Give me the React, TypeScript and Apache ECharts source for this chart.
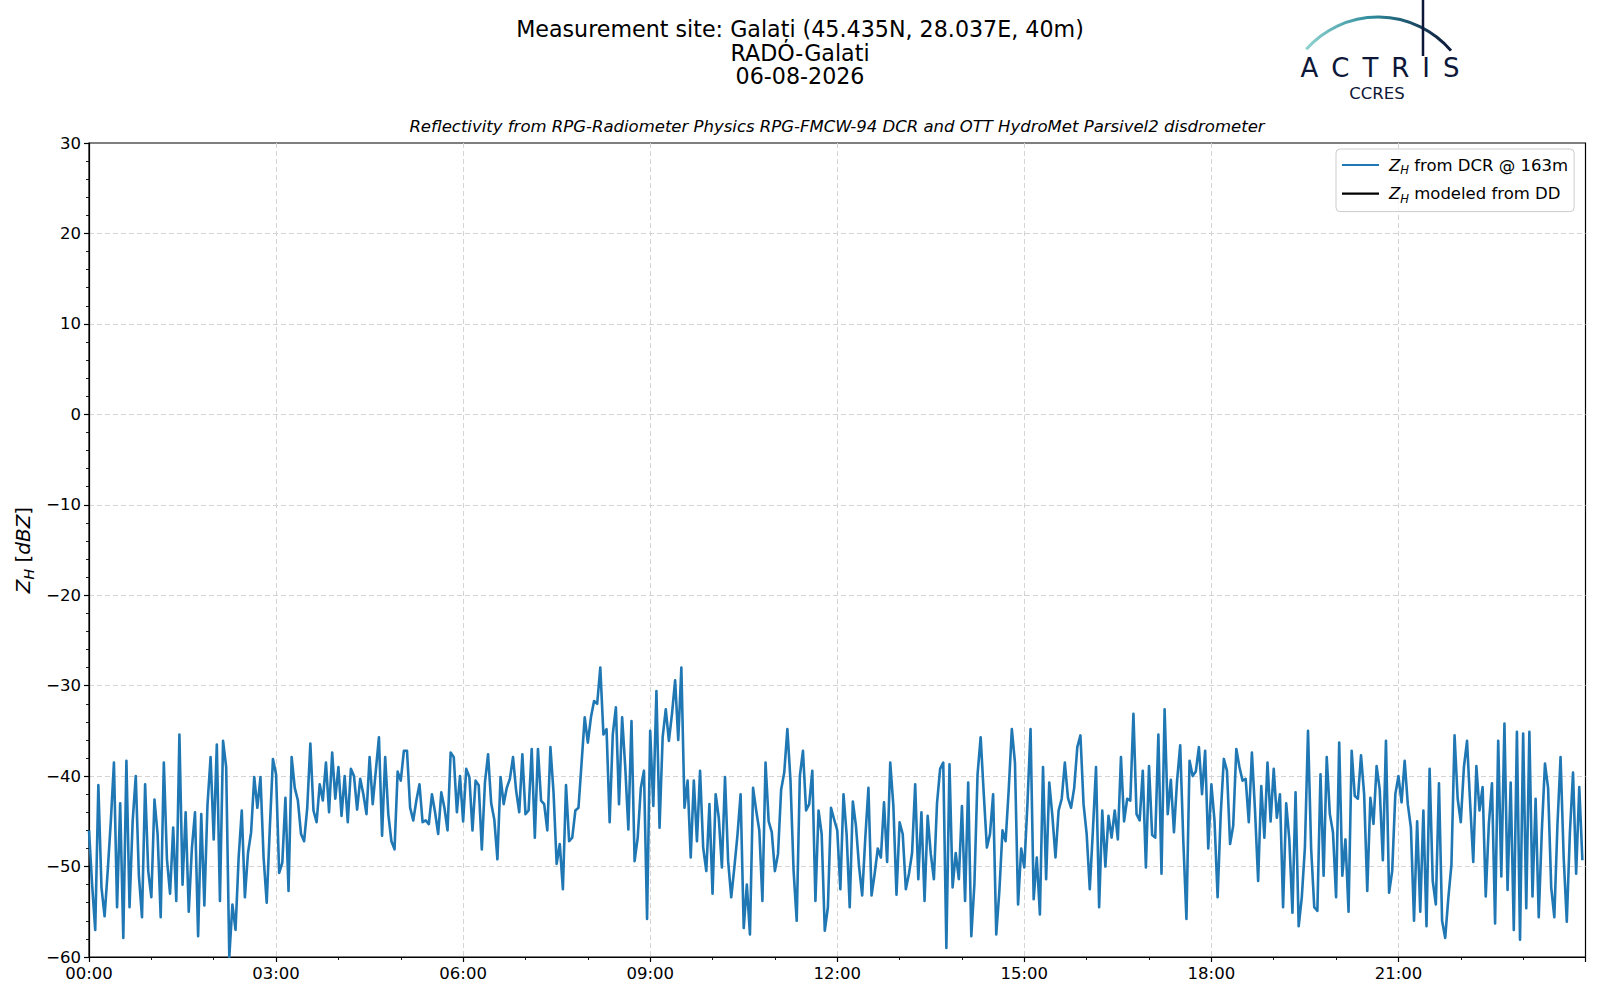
import { useEffect, useRef } from "react";
import * as echarts from "echarts";

// radar reflectivity at 163 m, one value every 3 minutes
const STEP_MIN = 3;

const zh0000 = [
  -46, -52, -57, -41, -52.3, -55.5, -50.5, -45, -38.5, -54.5,
  -43, -57.9, -38.3, -54.5, -45, -40, -51, -55.6, -40.9, -50.5,
  -53.4, -42.6, -46.4, -55.6, -38.5, -49.2, -53, -45.7, -53.8, -35.4,
  -52, -44, -55, -48, -44, -57.7, -44.2, -54.3, -43.2, -37.9,
  -47, -36.5, -53.8, -36.1, -39, -60, -54.2, -57, -49, -43.8,
  -53.4, -48.5, -46.2, -40.1, -43.5, -40.1, -49, -54, -45.7, -38.1
];
const zh0300 = [
  -39.8, -50.7, -49.6, -42.4, -52.7, -37.9, -41.3, -42.7, -46.4, -47.2,
  -43.5, -36.4, -43.8, -45.1, -40.9, -42.7, -38.5, -44, -37.4, -42.5,
  -39, -44.4, -40, -45.1, -39.2, -40, -43.7, -40.3, -42, -44.2,
  -37.9, -43.1, -39.4, -35.7, -46.6, -37.9, -44.2, -47.2, -48.1, -39.5,
  -40.5, -37.2, -37.2, -43.5, -44.9, -42.7, -40.9, -45.1, -44.9, -45.3,
  -42, -44, -46.4, -41.8, -43.5, -46, -37.4, -37.9, -44, -40
];
const zh0600 = [
  -45, -39.2, -40.1, -46, -40.5, -41, -48.1, -40.7, -37.6, -43,
  -44.8, -49.2, -40.1, -43.1, -41.3, -40.3, -37.9, -41.6, -44, -37.6,
  -44.2, -43.8, -37, -46.8, -37, -42.7, -43.1, -46, -36.8, -41.8,
  -49.7, -47.5, -52.5, -41, -47.2, -46.8, -43.8, -43.5, -38.5, -33.5,
  -36.3, -33.5, -31.7, -32, -28, -35.4, -34.8, -45.1, -35.4, -32.4,
  -43.1, -33.5, -39, -45.9, -33.9, -49.4, -46.8, -41.3, -39.4, -55.8
];
const zh0900 = [
  -35, -43.3, -30.6, -45.7, -35.7, -32.6, -36.1, -33.1, -29.4, -36,
  -28, -43.5, -40.5, -49, -40.5, -47.2, -39.4, -47.9, -50.5, -43.1,
  -53, -42, -44.6, -50.1, -40.1, -49.4, -53.4, -50.1, -46.5, -42,
  -56.8, -52, -57.5, -41.3, -43.8, -46, -53.8, -38.5, -45, -46.2,
  -50.5, -48.6, -41.5, -39.6, -34.8, -40.5, -50.5, -56, -40, -37.2,
  -43.8, -43.1, -39.4, -53.8, -43.8, -46.4, -57.1, -54.5, -43.5, -44.8
];
const zh1200 = [
  -46, -52.5, -42, -46.4, -54.5, -42.8, -45.5, -50, -53.2, -46.8,
  -41.3, -53.2, -50.8, -48, -49, -42.9, -49.5, -38.5, -43.3, -53.1,
  -45.1, -46.4, -52.5, -50.8, -48.5, -40.9, -51.4, -44, -53.8, -44.4,
  -48.6, -51.4, -43, -39.2, -38.5, -59, -38.7, -52.3, -48.5, -51.4,
  -43.3, -53.8, -40.7, -57.7, -51.9, -39.8, -35.7, -42, -47.9, -46.4,
  -42, -57.5, -52.7, -46, -47.2, -41.5, -34.8, -38.5, -54.2, -48
];
const zh1500 = [
  -50.1, -43.1, -34.8, -53.6, -49, -55.3, -39, -51.4, -40.7, -44.4,
  -49, -43.8, -42.5, -38.5, -42.4, -43.5, -41.3, -36.8, -35.5, -43.1,
  -46.4, -52.5, -46, -39, -54.5, -43.8, -50, -44.4, -46.8, -43.8,
  -47, -37.9, -45, -42.5, -42.7, -33.1, -44.2, -44.9, -39.4, -50.1,
  -38.9, -46.5, -46.8, -35.4, -50.8, -32.6, -44.2, -40.4, -46.2, -40.5,
  -36.6, -47.2, -55.8, -38.3, -40, -39.5, -36.8, -42, -37.2, -48
];
const zh1800 = [
  -40.9, -44.9, -53.4, -44.2, -38.1, -39.4, -47.5, -45.5, -37, -39,
  -40.5, -40.3, -45.1, -37.4, -43.8, -51.6, -41.1, -46.8, -38.5, -45,
  -39.2, -44.6, -42, -54.5, -43, -47, -55.1, -41.8, -56.6, -53.4,
  -47.9, -35, -48, -54.5, -54.9, -39.8, -51, -37.9, -44.2, -46.2,
  -53.4, -36.3, -51, -47, -55, -37.2, -42.2, -42.5, -37.7, -42,
  -52.7, -42.4, -45.3, -38.9, -41.5, -49.3, -36.1, -52.9, -50.5, -42
];
const zh2100 = [
  -40, -42.9, -38.3, -43.1, -45.7, -56, -45, -55, -43.8, -56.6,
  -39.2, -51.6, -54.2, -40.8, -56, -57.9, -53.5, -49.8, -35.5, -42.5,
  -45.1, -39, -36.1, -43, -49.5, -38.9, -43.8, -41.2, -53.3, -45.3,
  -40.8, -56.3, -36.1, -51.1, -34.2, -52.6, -40.7, -57, -35.1, -58.1,
  -35.3, -54.6, -35.1, -53.3, -42.5, -55.6, -46, -38.6, -41.3, -52.3,
  -55.6, -45.4, -37.9, -49, -56.1, -46.2, -39.6, -50.8, -41.2, -49.3
];

const xTickLabels = ["00:00", "03:00", "06:00", "09:00", "12:00", "15:00", "18:00", "21:00"];
const seriesNames = ["Z_H from DCR @ 163m", "Z_H modeled from DD"];
const titleLines = [
  "Measurement site: Galați (45.435N, 28.037E, 40m)",
  "RADO-Galati",
  "06-08-2026"
];
const subtitle =
  "Reflectivity from RPG-Radiometer Physics RPG-FMCW-94 DCR and OTT HydroMet Parsivel2 disdrometer";

const FONT = '"DejaVu Sans", "Noto Sans", sans-serif';
const NAVY = "#0d1738";

const makeRich = (size: number) => ({
  z: { fontFamily: FONT, fontStyle: "italic", fontSize: size, color: "#000", fill: "#000" },
  h: {
    fontFamily: FONT,
    fontStyle: "italic",
    fontSize: size * 0.7,
    color: "#000",
    fill: "#000",
    verticalAlign: "bottom",
    lineHeight: size * 1.33
  },
  i: { fontFamily: FONT, fontStyle: "italic", fontSize: size, color: "#000", fill: "#000" }
});

const richName = (name: string) => name.replace("Z_H", "{z|Z}{h|H}");

export default function App() {
  const ref = useRef<HTMLDivElement | null>(null);

  useEffect(() => {
    if (!ref.current) {
      return;
    }

    const chart = echarts.init(ref.current, null, { renderer: "svg" });

    const zh = [...zh0000, ...zh0300, ...zh0600, ...zh0900, ...zh1200, ...zh1500, ...zh1800, ...zh2100];
    const dcr = zh.map((v, i) => [i * STEP_MIN, v]);

    const axisBlack = { color: "#000", width: 1.2 };
    const gridLine = { color: "#d4d4d4", type: [5, 3], width: 1 };

    chart.setOption({
      animation: false,
      backgroundColor: "#fff",
      grid: {
        left: 89,
        right: 14.5,
        top: 143,
        bottom: 43,
        show: true,
        borderColor: "#000",
        borderWidth: 1.2,
        outerBoundsMode: "none"
      },
      legend: {
        data: seriesNames,
        orient: "vertical",
        left: 1336,
        top: 149,
        icon: "rect",
        itemWidth: 37,
        itemHeight: 2.2,
        itemGap: 6.6,
        padding: [5, 6, 7, 6],
        backgroundColor: "rgba(255,255,255,0.8)",
        borderColor: "#cccccc",
        borderWidth: 1,
        borderRadius: 4,
        selectedMode: false,
        formatter: richName,
        textStyle: {
          fontFamily: FONT,
          fontSize: 16.5,
          color: "#000",
          lineHeight: 22,
          padding: [0, 0, 0, 5],
          rich: makeRich(16.5)
        }
      },
      xAxis: {
        type: "value",
        min: 0,
        max: 1440,
        interval: 180,
        axisLine: { show: true, onZero: false, lineStyle: axisBlack },
        axisTick: { show: true, length: 5, lineStyle: axisBlack },
        minorTick: { show: true, splitNumber: 3, length: 3, lineStyle: { color: "#000", width: 0.9 } },
        axisLabel: {
          color: "#000",
          fontFamily: FONT,
          fontSize: 16.5,
          margin: 8,
          formatter: (v: number) => xTickLabels[v / 180] ?? ""
        },
        splitLine: { show: true, showMinLine: false, showMaxLine: false, lineStyle: gridLine }
      },
      yAxis: {
        type: "value",
        min: -60,
        max: 30,
        interval: 10,
        axisLine: { show: true, onZero: false, lineStyle: axisBlack },
        axisTick: { show: true, length: 5, lineStyle: axisBlack },
        minorTick: { show: true, splitNumber: 5, length: 3, lineStyle: { color: "#000", width: 0.9 } },
        axisLabel: {
          color: "#000",
          fontFamily: FONT,
          fontSize: 16.5,
          margin: 8,
          formatter: (v: number) => (v < 0 ? "\u2212" + Math.abs(v) : String(v))
        },
        splitLine: { show: true, showMinLine: false, showMaxLine: false, lineStyle: gridLine }
      },
      series: [
        {
          type: "line",
          name: seriesNames[0],
          data: dcr,
          symbol: "none",
          showSymbol: false,
          lineStyle: { color: "#1f77b4", width: 2.6, join: "round" },
          itemStyle: { color: "#1f77b4" },
          z: 3
        },
        {
          type: "line",
          name: seriesNames[1],
          data: [],
          symbol: "none",
          lineStyle: { color: "#000", width: 2 },
          itemStyle: { color: "#000" }
        }
      ],
      graphic: [
        ...titleLines.map((line, i) => ({
          type: "text",
          x: 800,
          y: 29 + i * 23.5,
          style: {
            text: line,
            fontFamily: FONT,
            fontSize: 22.2,
            fill: "#000",
            align: "center",
            verticalAlign: "middle"
          }
        })),
        {
          type: "text",
          x: 837,
          y: 126,
          style: {
            text: subtitle,
            fontFamily: FONT,
            fontSize: 16.5,
            fontStyle: "italic",
            fill: "#000",
            align: "center",
            verticalAlign: "middle"
          }
        },
        {
          type: "text",
          x: 23,
          y: 550,
          rotation: Math.PI / 2,
          style: {
            text: "{z|Z}{h|H} [{i|dBZ}]",
            rich: makeRich(20),
            fontFamily: FONT,
            fontSize: 20,
            fill: "#000",
            align: "center",
            verticalAlign: "middle"
          }
        },
        // ACTRIS / CCRES logo
        {
          type: "arc",
          shape: { cx: 1378, cy: 113, r: 96, startAngle: -2.415, endAngle: -0.707, clockwise: true },
          style: {
            fill: "none",
            lineWidth: 3,
            stroke: new echarts.graphic.LinearGradient(0, 0, 1, 0, [
              { offset: 0, color: "#8fd3cf" },
              { offset: 0.45, color: "#2e8b9c" },
              { offset: 1, color: NAVY }
            ])
          }
        },
        {
          type: "line",
          shape: { x1: 1423, y1: 0, x2: 1423, y2: 56 },
          style: { stroke: NAVY, lineWidth: 2.5 }
        },
        {
          type: "text",
          x: 1380,
          y: 67.5,
          style: {
            text: "A\u2002C\u2002T\u2002R\u2002I\u2002S",
            fontFamily: FONT,
            fontSize: 26,
            fill: NAVY,
            align: "center",
            verticalAlign: "middle"
          }
        },
        {
          type: "text",
          x: 1377,
          y: 93,
          style: {
            text: "CCRES",
            fontFamily: FONT,
            fontSize: 16.5,
            fill: NAVY,
            align: "center",
            verticalAlign: "middle"
          }
        }
      ]
    });

    return () => {
      chart.dispose();
    };
  }, []);

  return (
    <div
      ref={ref}
      style={{ position: "absolute", left: 0, top: 0, width: 1600, height: 1000 }}
    />
  );
}
